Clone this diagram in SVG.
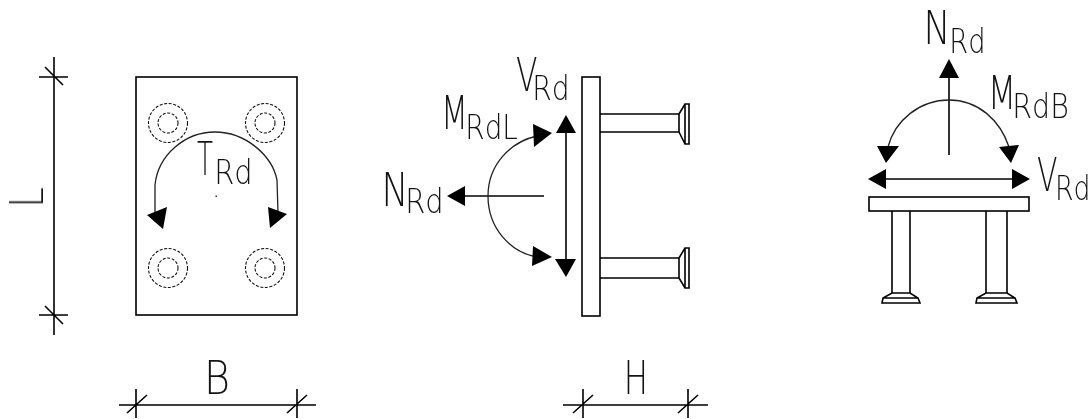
<svg xmlns="http://www.w3.org/2000/svg" width="1092" height="419" viewBox="0 0 1092 419">
<style>
.s{fill:none;stroke:#000;stroke-width:1.6}
.t{fill:none;stroke:#222;stroke-width:1.3}
.w{fill:#fff;stroke:#000;stroke-width:1.6}
.d{fill:none;stroke:#111;stroke-width:1.1;stroke-dasharray:3 1.6}
.h{fill:#000;stroke:none}
text{font-family:"DejaVu Sans","Liberation Sans",sans-serif;font-weight:200;fill:#111}
.b{font-size:46px}
.m{font-size:34px}
</style>
<rect width="1092" height="419" fill="#fff"/>
<g id="front-plate">
<rect class="s" x="136" y="77" width="161" height="238"/>
<circle class="d" cx="168" cy="123" r="19.5"/><circle class="d" cx="168" cy="123" r="10"/>
<circle class="d" cx="265" cy="123" r="19.5"/><circle class="d" cx="265" cy="123" r="10"/>
<circle class="d" cx="168" cy="268" r="19.5"/><circle class="d" cx="168" cy="268" r="10"/>
<circle class="d" cx="265" cy="268" r="19.5"/><circle class="d" cx="265" cy="268" r="10"/>
<rect x="215.500" y="195.500" width="1.500" height="1.500" fill="#333"/>
</g>
<g id="side-plate">
<rect class="w" x="582" y="77" width="18" height="239"/>
<path class="s" d="M600 114H679V132H600M600 258H679V278H600"/>
<path class="s" d="M679 114L685 104H689V144H685L679 132M685 104V144"/>
<path class="s" d="M679 258L685 248H689V288H685L679 278M685 248V288"/>
</g>
<g id="end-plate">
<rect class="w" x="869" y="197" width="160" height="14"/>
<path class="s" d="M892 211V293M910 211V293M986 211V293M1007 211V293"/>
<path class="s" d="M892 293H910L918 298L920 303H882L883 298ZM883 298H918"/>
<path class="s" d="M986 293H1007L1015 298L1017 303H976L977 298ZM977 298H1015"/>
</g>
<g id="connectors">
<path class="s" d="M54 57V335M39 77H68M39 315H68M45 67L63 85M45 306L63 324"/>
<path class="s" d="M119 405H316M136 389V418M297 389V418M127 413L147 395M287 413L307 395"/>
<path class="s" d="M563 405H708M583 389V418M688 389V418M573 413L593 395M678 413L698 395"/>
<path class="t" d="M155 213V185C158 155 185 132 215 132C245 132 272 155 277 180L278 213"/>
<path class="h" d="M147 215L167 207L163 229ZM268 207L287 214L270 228Z"/>
<path class="s" d="M566 125V267"/>
<path class="h" d="M566 115L556 133H576ZM555 259H576L566 277Z"/>
<path class="s" d="M544 196H460"/>
<path class="h" d="M447 196L465 186V206Z"/>
<path class="t" d="M537 136C510 142 488 165 488 196C488 228 510 252 537 257"/>
<path class="h" d="M533 124L552 133L534 147ZM533 246L552 257L532 266Z"/>
<path class="s" d="M949 155V70"/>
<path class="h" d="M949 59L939 78H959Z"/>
<path class="t" d="M888 147C895 120 920 100 949 100C978 100 1000 120 1009 147"/>
<path class="h" d="M877 146H899L886 163ZM999 147L1019 145L1011 163Z"/>
<path class="s" d="M880 179H1020"/>
<path class="h" d="M868 179L886 169V189ZM1030 179L1012 169V189Z"/>
</g>
<g id="labels" opacity="0.99">
<text class="b" transform="translate(43 207.600) rotate(-90)" textLength="20.500" lengthAdjust="spacingAndGlyphs">L</text>
<text class="b" x="204" y="394" textLength="26" lengthAdjust="spacingAndGlyphs">B</text>
<text class="b" x="623.800" y="394" textLength="24.300" lengthAdjust="spacingAndGlyphs">H</text>
<text class="b"><tspan x="197" y="175" textLength="16" lengthAdjust="spacingAndGlyphs">T</tspan><tspan class="m" x="214.200" y="184" textLength="38.400" lengthAdjust="spacingAndGlyphs">Rd</tspan></text>
<text class="b"><tspan x="516" y="91" textLength="21.500" lengthAdjust="spacingAndGlyphs">V</tspan><tspan class="m" x="532.200" y="100" textLength="37.400" lengthAdjust="spacingAndGlyphs">Rd</tspan></text>
<text class="b"><tspan x="441" y="129" textLength="27" lengthAdjust="spacingAndGlyphs">M</tspan><tspan class="m" x="465.300" y="139" textLength="52.500" lengthAdjust="spacingAndGlyphs">RdL</tspan></text>
<text class="b"><tspan x="381.400" y="206" textLength="27" lengthAdjust="spacingAndGlyphs">N</tspan><tspan class="m" x="405.200" y="213" textLength="38.400" lengthAdjust="spacingAndGlyphs">Rd</tspan></text>
<text class="b"><tspan x="923.400" y="44" textLength="27" lengthAdjust="spacingAndGlyphs">N</tspan><tspan class="m" x="949.300" y="53" textLength="36.200" lengthAdjust="spacingAndGlyphs">Rd</tspan></text>
<text class="b"><tspan x="987.800" y="109" textLength="28.500" lengthAdjust="spacingAndGlyphs">M</tspan><tspan class="m" x="1012.300" y="118" textLength="56.500" lengthAdjust="spacingAndGlyphs">RdB</tspan></text>
<text class="b"><tspan x="1037" y="191" textLength="20.500" lengthAdjust="spacingAndGlyphs">V</tspan><tspan class="m" x="1055" y="200" textLength="35.500" lengthAdjust="spacingAndGlyphs">Rd</tspan></text>
</g>
</svg>
